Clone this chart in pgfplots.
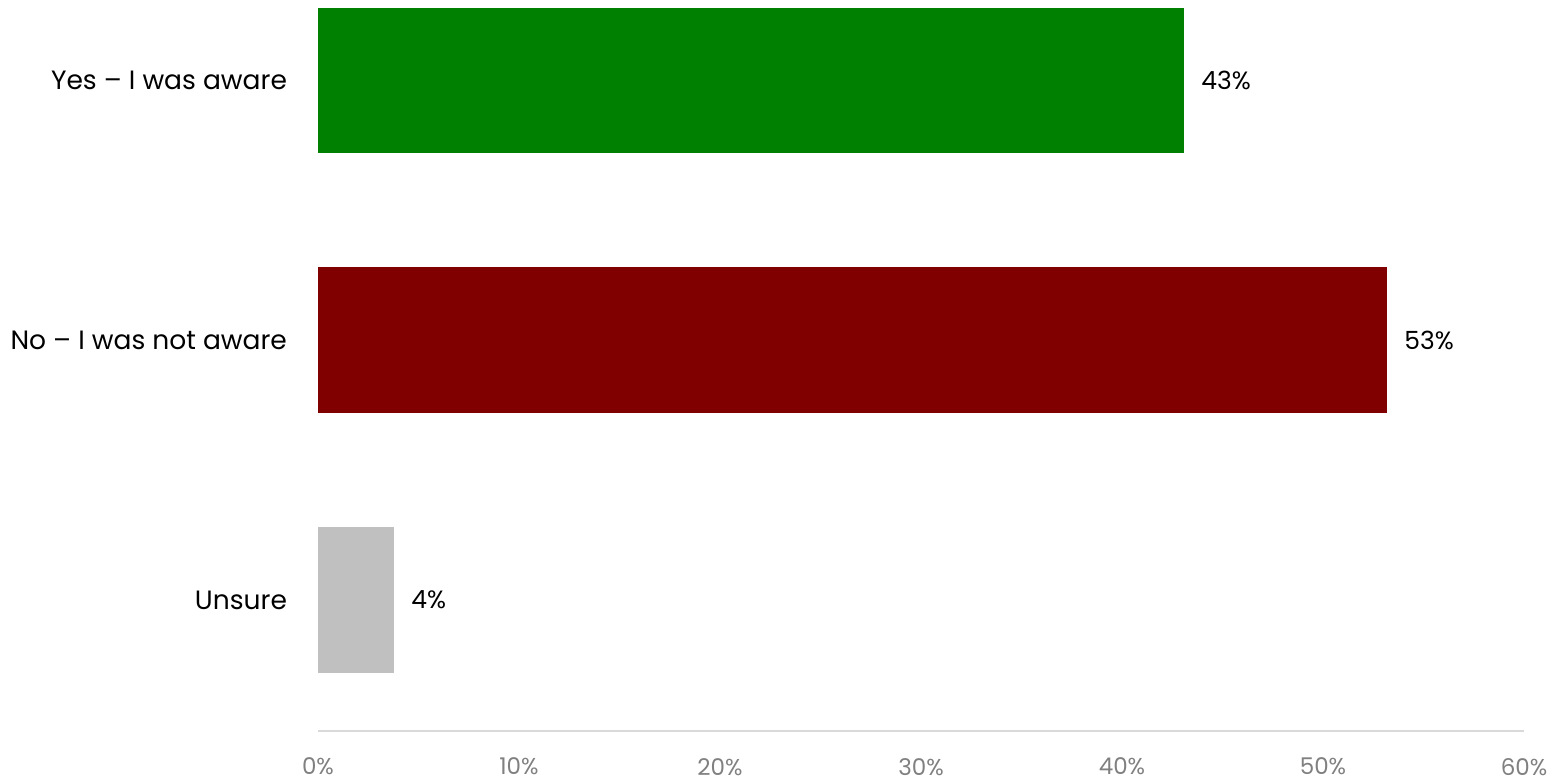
\documentclass[border=0pt]{standalone}
\usepackage{pgfplots}
\pgfplotsset{compat=1.18}
\usepackage{fontspec}
\setmainfont{Poppins}
\definecolor{cgreen}{HTML}{008000}
\definecolor{cred}{HTML}{800000}
\definecolor{cgray}{HTML}{C0C0C0}
\definecolor{tickgray}{HTML}{808080}
\definecolor{linegray}{HTML}{D9D9D9}
\begin{document}
\begin{tikzpicture}
\begin{axis}[
  scale only axis,
  width=603pt, height=365.5pt,
  xmin=0, xmax=60, ymin=-0.504, ymax=2.308,
  xbar, bar shift=0pt, bar width=0.558,
  axis x line*=bottom, axis y line*=left,
  x axis line style={draw=linegray, line width=0.6pt, -},
  y axis line style={draw=none},
  xtick={0,10,...,60},
  xticklabel={\pgfmathprintnumber{\tick}\%},
  /pgf/number format/assume math mode=true,
  xticklabel style={font=\fontsize{11.5}{13}\selectfont, text=tickgray, yshift=-10pt},
  major tick length=0pt,
  ytick={0,1,2},
  yticklabels={Unsure, No – I was not aware, Yes – I was aware},
  yticklabel style={font=\fontsize{13.25}{15}\selectfont, anchor=east, xshift=-12pt},
  nodes near coords style={font=\fontsize{12.5}{14}\selectfont, anchor=west, xshift=5pt, text=black},
  clip=false,
]
\addplot[fill=cgreen, draw=none, nodes near coords={43\%}] coordinates {(43.1,2)};
\addplot[fill=cred, draw=none, nodes near coords={53\%}] coordinates {(53.2,1)};
\addplot[fill=cgray, draw=none, nodes near coords={4\%}] coordinates {(3.8,0)};
\coordinate (sw) at (rel axis cs:0,0);
\coordinate (ne) at (rel axis cs:1,1);
\end{axis}
\pgfresetboundingbox
\path[use as bounding box] ([xshift=-159pt,yshift=-25.5pt]sw) rectangle ([xshift=14pt]ne);
\end{tikzpicture}
\end{document}
